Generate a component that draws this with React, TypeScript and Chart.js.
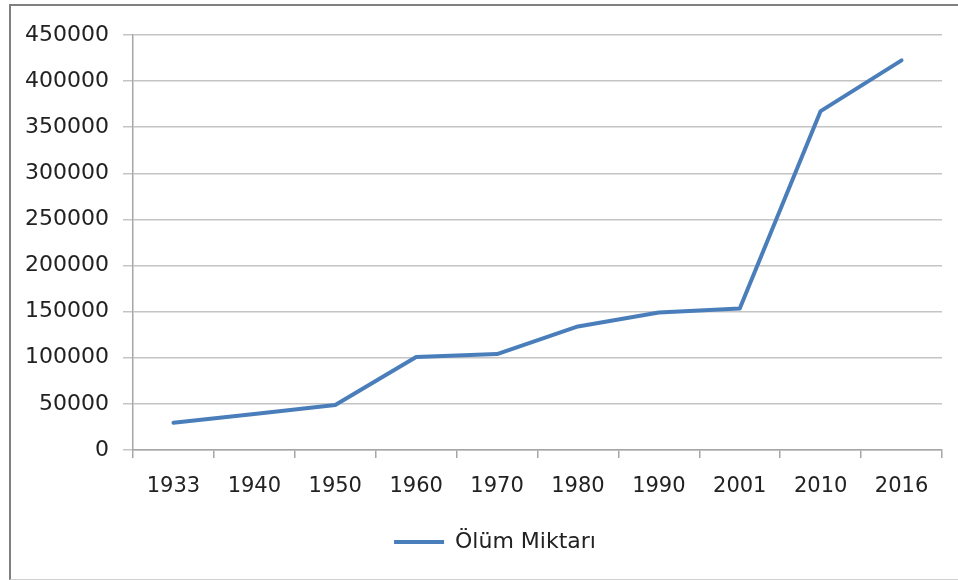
import React, { useEffect, useRef } from "react";
import { Chart, registerables } from "chart.js";

Chart.register(...registerables);

const years = ["1933", "1940", "1950", "1960", "1970", "1980", "1990", "2001", "2010", "2016"];
const deaths = [29600, 39000, 48800, 100800, 104000, 134000, 149000, 153500, 367500, 422500];
const seriesLabel = "Ölüm Miktarı";
const yMax = 450000;
const yStep = 50000;

const FONT = "'DejaVu Sans', sans-serif";

const shiftLegend = {
  id: "shiftLegend",
  afterLayout(chart: any) {
    const l = chart.legend;
    if (l) {
      l.left += 48;
    }
  },
};

export default function App() {
  const ref = useRef<HTMLCanvasElement | null>(null);

  useEffect(() => {
    if (!ref.current) return;
    const chart = new Chart(ref.current, {
      type: "line",
      data: {
        labels: years,
        datasets: [
          {
            label: seriesLabel,
            data: deaths,
            borderColor: "#4A7EBB",
            backgroundColor: "#4A7EBB",
            borderWidth: 4,
            pointRadius: 0,
            pointHoverRadius: 0,
            tension: 0,
            fill: false,
            borderCapStyle: "round",
            borderJoinStyle: "round",
          },
        ],
      },
      plugins: [shiftLegend],
      options: {
        animation: false,
        responsive: false,
        maintainAspectRatio: false,
        layout: { padding: { top: 35, right: 16, left: 0, bottom: 17 } },
        plugins: {
          tooltip: { enabled: false },
          legend: {
            position: "bottom",
            labels: {
              usePointStyle: true,
              pointStyle: "line",
              pointStyleWidth: 50,
              boxHeight: 20,
              color: "#222",
              padding: 14,
              font: { family: FONT, size: 22 },
            },
          },
        },
        scales: {
          x: {
            offset: true,
            grid: {
              display: true,
              offset: true,
              drawOnChartArea: false,
              drawTicks: true,
              tickLength: 8,
              color: "#a6a6a6",
              lineWidth: 1.5,
            },
            border: { display: true, color: "#a6a6a6", width: 1.5 },
            ticks: {
              color: "#222",
              font: { family: FONT, size: 21 },
              padding: 16,
              maxRotation: 0,
            },
            afterFit: (s: any) => {
              s.height = 67;
            },
          },
          y: {
            min: 0,
            max: yMax,
            grid: {
              color: "#c4c4c4",
              lineWidth: 1.5,
              drawTicks: true,
              tickLength: 10,
            },
            border: { display: true, color: "#a6a6a6", width: 1.5 },
            ticks: {
              stepSize: yStep,
              color: "#222",
              font: { family: FONT, size: 22 },
              padding: 14,
              callback: (v: any) => String(v),
            },
            afterFit: (s: any) => {
              s.width = 133;
            },
          },
        },
      },
    });
    return () => chart.destroy();
  }, []);

  return (
    <div
      style={{
        position: "fixed",
        left: 0,
        top: 0,
        width: 958,
        height: 580,
        background: "#fff",
        overflow: "hidden",
      }}
    >
      <div
        style={{
          position: "absolute",
          left: 9,
          top: 4,
          width: 1000,
          height: 573,
          borderTop: "2px solid #808080",
          borderLeft: "2px solid #808080",
          borderBottom: "1px solid #d0d0d0",
        }}
      />
      <canvas
        ref={ref}
        width={958}
        height={580}
        style={{ position: "absolute", left: 0, top: 0, width: 958, height: 580 }}
      />
    </div>
  );
}
